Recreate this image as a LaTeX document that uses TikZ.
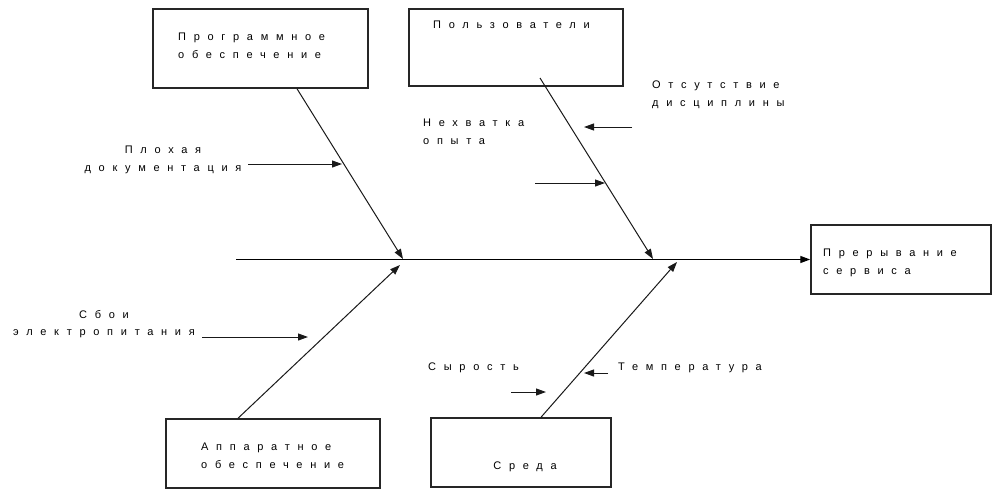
\documentclass[tikz,border=0pt]{standalone}
\usepackage{fontspec}
\setmainfont{Liberation Sans}
\newfontfamily\lblfont{Liberation Sans}[LetterSpace=70]
\usetikzlibrary{arrows.meta}

\begin{document}
\begin{tikzpicture}[
        x=1pt, y=-1pt,
        causebox/.style={rectangle, draw=black!85, line width=1.5pt, inner sep=0pt},
        lbl/.style={font=\lblfont\fontsize{11}{17.5}\selectfont, inner sep=0pt, align=left, text=black},
        bone/.style={draw=black!90, line width=1pt, -{Triangle[length=10pt, width=7pt]}},
        spine/.style={draw=black, line width=1.4pt, -{Triangle[length=10pt, width=7pt]}}
    ]
        \useasboundingbox (0,0) rectangle (993,490);

        % Boxes (categories and effect)
        \node[causebox, minimum width=215pt, minimum height=79pt] (soft) at (260.5, 48.5) {};
        \node[causebox, minimum width=214pt, minimum height=77pt] (users) at (516, 47.5) {};
        \node[causebox, minimum width=180pt, minimum height=69pt] (effect) at (901, 259.5) {};
        \node[causebox, minimum width=214pt, minimum height=69pt] (hard) at (273, 453.5) {};
        \node[causebox, minimum width=180pt, minimum height=69pt] (env) at (521, 452.5) {};

        % Box texts
        \node[lbl, anchor=north west] (softtxt) at (178, 33) {Программное\\обеспечение};
        \node[lbl, anchor=north west] (userstxt) at (433, 21) {Пользователи};
        \node[lbl, anchor=north west] (effecttxt) at (823, 249) {Прерывание\\сервиса};
        \node[lbl, anchor=north west] (hardtxt) at (201, 443) {Аппаратное\\обеспечение};
        \node[lbl, anchor=north] (envtxt) at (525, 462) {Среда};

        % Cause texts
        \node[lbl, anchor=north, align=center] (doctxt) at (163, 146) {Плохая\\документация};
        \node[lbl, anchor=north west] (disctxt) at (652, 81) {Отсутствие\\дисциплины};
        \node[lbl, anchor=north west] (exptxt) at (423, 119) {Нехватка\\опыта};
        \node[lbl, anchor=north, align=center] (powtxt) at (104, 310) {Сбои\\электропитания};
        \node[lbl, anchor=north west] (humtxt) at (428, 363) {Сырость};
        \node[lbl, anchor=north west] (temptxt) at (618, 363) {Температура};

        % Spine and bone ends
        \coordinate (head) at (236, 259.5);
        \coordinate (j1) at (403, 259);
        \coordinate (j2) at (653, 259);
        \coordinate (j3) at (400, 265);
        \coordinate (j4) at (677, 262);
        \coordinate (userstail) at (540, 78);

        \draw[spine] (head) -- (effect.west);
        \draw[bone] ([xshift=36.5pt]soft.south) -- (j1);
        \draw[bone] (userstail) -- (j2);
        \draw[bone] ([xshift=-35pt]hard.north) -- (j3);
        \draw[bone] ([xshift=20pt]env.north) -- (j4);

        % Small cause arrows
        \coordinate (doc-s) at (248, 164);   \coordinate (doc-e) at (342, 164);
        \coordinate (disc-s) at (632, 127);  \coordinate (disc-e) at (584, 127);
        \coordinate (exp-s) at (535, 183);   \coordinate (exp-e) at (605, 183);
        \coordinate (pow-s) at (202, 337);   \coordinate (pow-e) at (308, 337);
        \coordinate (hum-s) at (511, 392);   \coordinate (hum-e) at (546, 392);
        \coordinate (temp-s) at (608, 373);  \coordinate (temp-e) at (584, 373);

        \foreach \c in {doc, disc, exp, pow, hum, temp} {
            \draw[bone] (\c-s) -- (\c-e);
        }

    \end{tikzpicture}
\end{document}
